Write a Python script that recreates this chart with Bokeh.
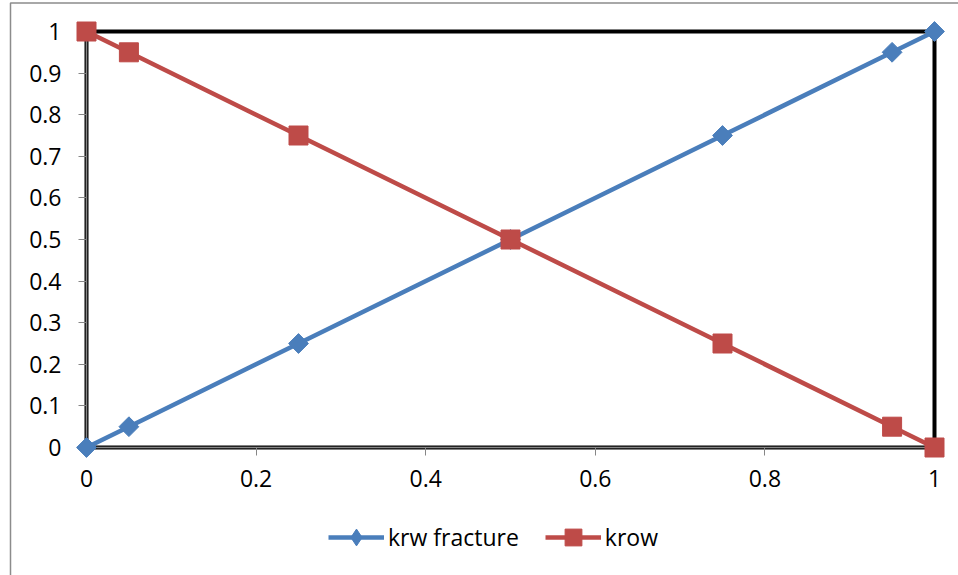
from bokeh.plotting import figure
from bokeh.models import Range1d, FixedTicker, Legend
from bokeh.layouts import column
from bokeh.embed import file_html
from bokeh.resources import INLINE

sw = [0, 0.05, 0.25, 0.5, 0.75, 0.95, 1]
krw_fracture = [0, 0.05, 0.25, 0.5, 0.75, 0.95, 1]
krow = [1, 0.95, 0.75, 0.5, 0.25, 0.05, 0]
series_names = ["krw fracture", "krow"]

x_ticks = [0, 0.2, 0.4, 0.6, 0.8, 1]
x_tick_labels = ["0", "0.2", "0.4", "0.6", "0.8", "1"]
y_ticks = [0, 0.1, 0.2, 0.3, 0.4, 0.5, 0.6, 0.7, 0.8, 0.9, 1]
y_tick_labels = ["0", "0.1", "0.2", "0.3", "0.4", "0.5", "0.6", "0.7", "0.8", "0.9", "1"]

BLUE = "#4A7EBB"
RED = "#BE4B48"
GRAY = "#868686"
EDGE = "#8c8c8c"
FONT = "Open Sans"

W = 958
H1, H2 = 505, 70
LEFT, RIGHT, TOP, BOTTOM = 86, 24, 31, 58
fw = W - LEFT - RIGHT
fh = H1 - TOP - BOTTOM
edge_x = (10 - LEFT) / fw

p = figure(width=W, height=H1, output_backend="svg", toolbar_location=None,
           x_range=Range1d(0, 1), y_range=Range1d(0, 1),
           min_border_left=LEFT, min_border_right=RIGHT, min_border_top=TOP,
           min_border_bottom=BOTTOM)
p.background_fill_color = "white"
p.border_fill_color = "white"
p.xgrid.visible = False
p.ygrid.visible = False
p.outline_line_color = "black"
p.outline_line_width = 4

for ax in (p.xaxis[0], p.yaxis[0]):
    ax.axis_line_color = GRAY
    ax.axis_line_width = 1.5
    ax.major_label_text_font = FONT
    ax.major_label_text_font_size = "23px"
    ax.major_label_text_color = "black"
    ax.minor_tick_line_color = None
    ax.major_tick_in = 0
    ax.major_tick_line_color = GRAY
    ax.major_tick_out = 8

p.xaxis.ticker = FixedTicker(ticks=x_ticks)
p.xaxis.major_label_overrides = {t: l for t, l in zip(x_ticks, x_tick_labels)}
p.xaxis.major_label_standoff = 14

p.yaxis.ticker = FixedTicker(ticks=y_ticks)
p.yaxis.major_label_overrides = {t: l for t, l in zip(y_ticks, y_tick_labels)}
p.yaxis.major_label_standoff = 17

# outer chart-area border (only its left and top edges fall inside the picture)
p.quad(left=[edge_x], right=[2.0], top=[1 + (TOP - 2.5) / fh], bottom=[-1.0],
       fill_alpha=0, line_color=EDGE, line_width=1.5, level="overlay")

p.line(sw, krw_fracture, line_color=BLUE, line_width=4.5, level="overlay")
p.scatter(sw, krw_fracture, marker="square", angle=0.785398, size=14,
          fill_color=BLUE, line_color=BLUE, level="overlay")
p.line(sw, krow, line_color=RED, line_width=4.5, level="overlay")
p.scatter(sw, krow, marker="square", size=19,
          fill_color=RED, line_color=RED, level="overlay")

# legend strip below the chart (frame aligned with the chart's frame)
p2 = figure(width=W, height=H2, output_backend="svg", toolbar_location=None,
            x_range=Range1d(0, 1), y_range=Range1d(0, 1),
            min_border_left=LEFT, min_border_right=RIGHT, min_border_top=0,
            min_border_bottom=0)
p2.axis.visible = False
p2.grid.visible = False
p2.outline_line_color = None
p2.background_fill_color = "white"
p2.border_fill_color = "white"
p2.quad(left=[edge_x], right=[2.0], top=[2.0], bottom=[-1.0],
        fill_alpha=0, line_color=EDGE, line_width=1.5, level="overlay")

k1 = p2.line(sw, krw_fracture, line_color=BLUE, line_width=4.5, visible=False)
k1m = p2.scatter(sw, krw_fracture, marker="diamond", size=14,
                 fill_color=BLUE, line_color=BLUE, visible=False)
k2 = p2.line(sw, krow, line_color=RED, line_width=4.5, visible=False)
k2m = p2.scatter(sw, krow, marker="square", size=19, fill_color=RED,
                 line_color=RED, visible=False)

legend = Legend(items=[(series_names[0], [k1, k1m]), (series_names[1], [k2, k2m])],
                orientation="horizontal", location=(242, 17))
legend.label_text_font = FONT
legend.label_text_font_size = "23px"
legend.label_text_color = "black"
legend.glyph_width = 56
legend.glyph_height = 42
legend.label_standoff = 4
legend.spacing = 26
legend.padding = 0
legend.margin = 0
legend.border_line_color = None
legend.background_fill_alpha = 0
legend.inactive_fill_alpha = 0
p2.add_layout(legend)

layout = column(p, p2, spacing=0)
open("out.html", "w").write(file_html(layout, INLINE))
